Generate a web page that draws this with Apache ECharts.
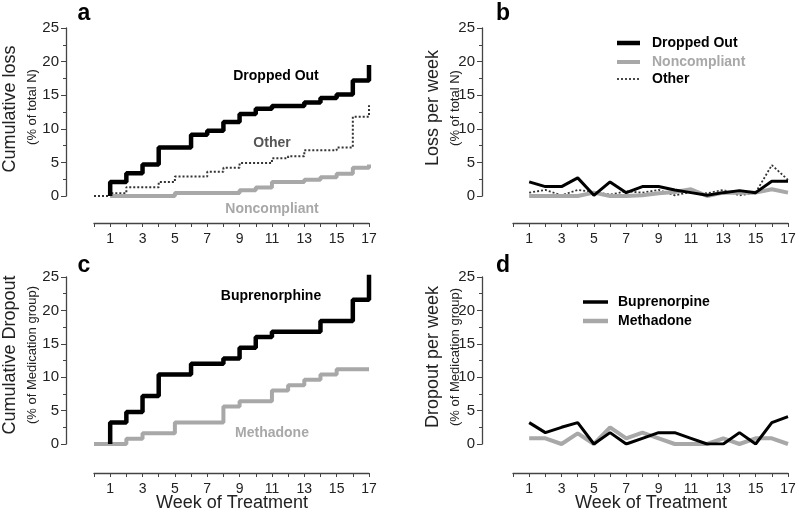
<!DOCTYPE html>
<html>
<head>
<meta charset="utf-8">
<script src="https://cdn.jsdelivr.net/npm/echarts@6/dist/echarts.min.js"></script>
<style>
html,body{margin:0;padding:0;background:#fff}
#wrap{position:relative;width:800px;height:515px}
#axes,#c{position:absolute;left:0;top:0;width:800px;height:515px}
</style>
</head>
<body>
<div id="wrap"><div id="axes"></div><div id="c"></div></div>
<script>
// ---- data ----
var weeks = [1,2,3,4,5,6,7,8,9,10,11,12,13,14,15,16,17];
var xTickLabels = ['1','3','5','7','9','11','13','15','17'];
var yTicks = [0,5,10,15,20,25];

// panel a: cumulative loss (% of total N), value after the step at each week
var droppedCum = [2.1,3.4,4.7,7.2,7.2,9.1,9.7,11.0,12.2,13.0,13.4,13.4,13.9,14.6,15.1,17.2,19.5];
var otherCum   = [0.4,1.3,1.3,2.1,2.9,2.9,3.6,4.2,4.9,4.9,5.6,5.9,6.8,6.8,7.2,11.8,13.5];
var noncompCum = [0,0,0,0,0.45,0.45,0.45,0.45,0.85,1.25,2.1,2.1,2.4,2.8,3.3,4.2,4.7];

// panel b: loss per week (% of total N)
var droppedWk = [2.1,1.4,1.4,2.7,0.1,2.1,0.5,1.4,1.4,0.9,0.5,0.1,0.5,0.8,0.5,2.2,2.2];
var otherWk   = [0.5,0.9,0.1,0.9,0.6,0.2,0.7,0.5,0.9,0.1,0.6,0.4,0.9,0.1,0.5,4.6,2.4];
var noncompWk = [0,0,0,0,0.5,0,0,0.1,0.4,0.6,1.0,0,0.5,0.5,0.5,1.0,0.5];

// panel c: cumulative dropout (% of medication group)
var bupCum = [3.2,4.8,7.2,10.4,10.4,12.0,12.0,12.8,14.4,16.0,16.8,16.8,16.8,18.4,18.4,21.6,25.6];
var metCum = [0,0.8,1.6,1.6,3.2,3.2,3.2,5.6,6.4,6.4,8.0,8.8,9.6,10.4,11.2,11.2,11.2];

// panel d: dropout per week (% of medication group)
var bupWk = [3.2,1.7,2.5,3.2,0,1.7,0,0.85,1.7,1.7,0.85,0,0,1.7,0,3.2,4.1];
var metWk = [0.85,0.85,0,1.6,0,2.5,0.85,1.7,0.85,0,0,0,0.85,0,0.85,0.85,0];

// start week of each cumulative staircase
var droppedStart = 1, otherStart = 0, noncompStart = 1, bupStart = 1, metStart = 0;

// ---- helpers ----
function stairs(start, xs, vals) {
  var pts = [[start, 0]];
  var prev = 0;
  for (var i = 0; i < xs.length; i++) {
    pts.push([xs[i], prev]);
    pts.push([xs[i], vals[i]]);
    prev = vals[i];
  }
  return pts;
}
function pairs(xs, vals) { return xs.map(function (x, i) { return [x, vals[i]]; }); }

var FONT = '"Liberation Sans", Arial, sans-serif';
var GRAY = '#a8a8a8';
var AX = '#444';

var grids = [
  {left: 94, top: 28, width: 275, height: 168},
  {left: 513, top: 28, width: 275, height: 168},
  {left: 94, top: 277, width: 275, height: 167},
  {left: 513, top: 277, width: 275, height: 167}
];
var panels = [
  {g: 0, xOff: 27, yOff: 28},
  {g: 1, xOff: 27, yOff: 31},
  {g: 2, xOff: 29, yOff: 28},
  {g: 3, xOff: 29, yOff: 31}
];

function xAx(gi, off, visible) {
  return {
    type: 'value', gridIndex: gi, min: 0, max: 17, interval: 1, offset: off, show: visible,
    axisLine: {show: true, onZero: false, lineStyle: {color: AX, width: 1.3}},
    axisTick: {show: true, length: 4, lineStyle: {color: AX, width: 1}},
    axisLabel: {fontFamily: FONT, fontSize: 14, color: '#222', margin: 9,
      formatter: function (v) { return xTickLabels.indexOf(String(v)) >= 0 ? String(v) : ''; }},
    splitLine: {show: false}
  };
}
function yAx(gi, off, visible) {
  return {
    type: 'value', gridIndex: gi, min: yTicks[0], max: yTicks[yTicks.length - 1], interval: 5, offset: off, show: visible,
    axisLine: {show: true, onZero: false, lineStyle: {color: AX, width: 1.3}},
    axisTick: {show: true, length: 5, lineStyle: {color: AX, width: 1}},
    minorTick: {show: true, splitNumber: 2, length: 3, lineStyle: {color: AX, width: 1}},
    axisLabel: {fontFamily: FONT, fontSize: 15, color: '#222', margin: 7},
    splitLine: {show: false}
  };
}
function line(gi, data, color, width, type, z) {
  return {
    type: 'line', xAxisIndex: gi, yAxisIndex: gi, data: data, symbol: 'none',
    lineStyle: {color: color, width: width, type: type || 'solid'},
    z: z || 2, silent: true, animation: false
  };
}
function txt(x, y, s, size, color, bold, rot, align) {
  return {
    type: 'text', x: x, y: y, rotation: rot || 0,
    style: {text: s, fontFamily: FONT, fontSize: size, fill: color, fontWeight: bold ? 'bold' : 'normal',
      align: align || 'center', verticalAlign: 'middle'}
  };
}
function seg(x1, y1, x2, y2, color, width, dash) {
  var st = {stroke: color, lineWidth: width};
  if (dash) st.lineDash = dash;
  return {type: 'line', shape: {x1: x1, y1: y1, x2: x2, y2: y2}, style: st};
}

// layer 1: detached axes (lines, ticks, tick labels)
var axesChart = echarts.init(document.getElementById('axes'));
axesChart.setOption({
  animation: false,
  grid: grids,
  xAxis: panels.map(function (p) { return xAx(p.g, p.xOff, true); }),
  yAxis: panels.map(function (p) { return yAx(p.g, p.yOff, true); }),
  series: panels.map(function (p) {
    return {type: 'line', xAxisIndex: p.g, yAxisIndex: p.g, data: [], symbol: 'none', silent: true};
  })
});

// layer 2: data lines and texts, same grids and scales
var chart = echarts.init(document.getElementById('c'));
chart.setOption({
  animation: false,
  grid: grids,
  xAxis: panels.map(function (p) { return xAx(p.g, p.xOff, false); }),
  yAxis: panels.map(function (p) { return yAx(p.g, p.yOff, false); }),
  series: [
    line(0, stairs(otherStart, weeks, otherCum), '#333', 2, [2, 2], 2),
    line(0, stairs(noncompStart, weeks, noncompCum), GRAY, 4, 'solid', 3),
    line(0, stairs(droppedStart, weeks, droppedCum), '#000', 4.5, 'solid', 4),

    line(1, pairs(weeks, otherWk), '#333', 1.8, [2, 2], 2),
    line(1, pairs(weeks, noncompWk), GRAY, 4, 'solid', 3),
    line(1, pairs(weeks, droppedWk), '#000', 3, 'solid', 4),

    line(2, stairs(metStart, weeks, metCum), GRAY, 4, 'solid', 3),
    line(2, stairs(bupStart, weeks, bupCum), '#000', 4.5, 'solid', 4),

    line(3, pairs(weeks, metWk), GRAY, 4, 'solid', 3),
    line(3, pairs(weeks, bupWk), '#000', 3, 'solid', 4)
  ],
  graphic: [
    txt(84, 14, 'a', 23, '#000', true),
    txt(503, 14, 'b', 23, '#000', true),
    txt(84, 266, 'c', 23, '#000', true),
    txt(503, 266, 'd', 23, '#000', true),

    txt(10, 109, 'Cumulative loss', 18, '#222', false, Math.PI / 2),
    txt(32, 107, '(% of total N)', 13, '#222', false, Math.PI / 2),
    txt(433, 108, 'Loss per week', 18, '#222', false, Math.PI / 2),
    txt(455, 108, '(% of total N)', 13, '#222', false, Math.PI / 2),
    txt(10, 355, 'Cumulative Dropout', 18, '#222', false, Math.PI / 2),
    txt(32, 355, '(% of Medication group)', 13, '#222', false, Math.PI / 2),
    txt(433, 357, 'Dropout per week', 18, '#222', false, Math.PI / 2),
    txt(455, 357, '(% of Medication group)', 13, '#222', false, Math.PI / 2),

    txt(232, 503, 'Week of Treatment', 18, '#222', false),
    txt(651, 503, 'Week of Treatment', 18, '#222', false),

    txt(276, 76, 'Dropped Out', 14, '#000', true),
    txt(272, 143, 'Other', 14, '#555', true),
    txt(272, 209, 'Noncompliant', 14, GRAY, true),
    txt(271, 296, 'Buprenorphine', 14, '#000', true),
    txt(272, 433, 'Methadone', 14, GRAY, true),

    seg(617, 43, 640, 43, '#000', 4.5),
    txt(652, 43, 'Dropped Out', 14, '#000', true, 0, 'left'),
    seg(617, 62, 640, 62, GRAY, 4),
    txt(652, 62, 'Noncompliant', 14, GRAY, true, 0, 'left'),
    seg(617, 79, 640, 79, '#333', 1.8, [2, 2]),
    txt(652, 79, 'Other', 14, '#000', true, 0, 'left'),

    seg(583, 302, 608, 302, '#000', 3.5),
    txt(618, 302, 'Buprenorpine', 14, '#000', true, 0, 'left'),
    seg(583, 321, 608, 321, GRAY, 4.5),
    txt(618, 321, 'Methadone', 14, '#000', true, 0, 'left')
  ]
});
</script>
</body>
</html>
